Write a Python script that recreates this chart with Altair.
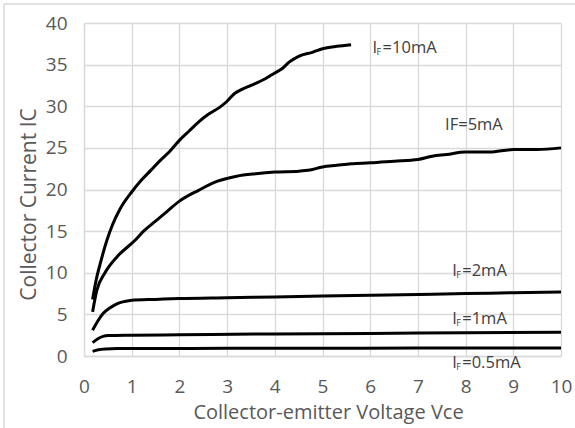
import altair as alt
import pandas as pd

# ---- data ----
if10_x = [0.18, 0.25, 0.35, 0.48, 0.6, 0.75, 1.0, 1.2, 1.4, 1.6, 1.8, 2.0, 2.2, 2.4, 2.6,
          2.85, 3.0, 3.15, 3.3, 3.5, 3.8, 4.0, 4.15, 4.3, 4.5, 4.8, 5.0, 5.3, 5.6]
if10_y = [6.8, 9.0, 11.3, 13.9, 15.8, 17.6, 19.7, 21.1, 22.3, 23.5, 24.6, 25.9, 27.0, 28.1, 29.0,
          29.9, 30.6, 31.5, 32.0, 32.5, 33.3, 34.0, 34.5, 35.3, 36.0, 36.5, 36.9, 37.2, 37.4]

if5_x = [0.18, 0.27, 0.44, 0.69, 1.07, 1.25, 1.5, 1.75, 2.0, 2.4, 2.8, 3.2, 3.6, 4.0, 4.5, 4.7,
         5.0, 5.3, 5.6, 6.0, 6.5, 7.0, 7.3, 7.6, 8.0, 8.5, 9.0, 9.5, 10.0]
if5_y = [5.3, 7.9, 10.0, 11.9, 13.9, 15.0, 16.2, 17.4, 18.6, 19.9, 21.0, 21.6, 21.9, 22.1, 22.2, 22.3,
         22.7, 22.9, 23.1, 23.2, 23.4, 23.6, 24.0, 24.2, 24.5, 24.5, 24.8, 24.8, 25.0]

if2_x = [0.18, 0.3, 0.4, 0.55, 0.7, 0.85, 1.0, 1.5, 2.0, 3.0, 4.0, 5.0, 6.0, 7.0, 8.0, 9.0, 10.0]
if2_y = [3.1, 4.3, 5.1, 5.8, 6.3, 6.55, 6.7, 6.8, 6.9, 7.0, 7.1, 7.2, 7.3, 7.4, 7.5, 7.6, 7.7]

if1_x = [0.18, 0.3, 0.4, 0.5, 1.0, 2.0, 4.0, 6.0, 8.0, 10.0]
if1_y = [1.6, 2.1, 2.35, 2.45, 2.5, 2.55, 2.65, 2.7, 2.8, 2.85]

if05_x = [0.18, 0.3, 0.45, 0.7, 1.0, 3.0, 5.0, 7.0, 10.0]
if05_y = [0.55, 0.75, 0.85, 0.9, 0.9, 0.92, 0.93, 0.95, 0.95]

series_names = ["10mA", "5mA", "2mA", "1mA", "0.5mA"]

sub_label_x = [6.05, 7.72, 7.72, 7.72]
sub_label_y = [37.0, 10.2, 4.4, -0.85]
sub_label_rest = ["=10mA", "=2mA", "=1mA", "=0.5mA"]

plain_label_x = [7.57]
plain_label_y = [27.8]
plain_label_text = ["IF=5mA"]

x_tick_values = [i / 2 for i in range(0, 21)]
y_tick_values = [0, 5, 10, 15, 20, 25, 30, 35, 40]

# ---- build tables ----
rows = []
for name, xs, ys in zip(series_names,
                        [if10_x, if5_x, if2_x, if1_x, if05_x],
                        [if10_y, if5_y, if2_y, if1_y, if05_y]):
    for a, b in zip(xs, ys):
        rows.append({"series": name, "vce": a, "ic": b})
df = pd.DataFrame(rows)

sub_df = pd.DataFrame({"vce": sub_label_x, "ic": sub_label_y, "rest": sub_label_rest,
                       "i": ["I"] * len(sub_label_x), "f": ["F"] * len(sub_label_x)})
plain_df = pd.DataFrame({"vce": plain_label_x, "ic": plain_label_y, "txt": plain_label_text})

FONT = "Open Sans"
GRAY = "#595959"

x_enc = alt.X("vce:Q", scale=alt.Scale(domain=[0, 10], nice=False),
              axis=alt.Axis(values=x_tick_values,
                            labelExpr="datum.value % 1 === 0 ? datum.label : ''",
                            gridColor={"condition": {"test": "datum.value % 1 === 0", "value": "#d9d9d9"},
                                       "value": "#efefef"},
                            gridWidth=1.3, ticks=False, tickSize=0,
                            domainColor="#d9d9d9", domainWidth=1.3,
                            labelFont=FONT, labelFontSize=19, labelColor=GRAY,
                            labelPadding=21, labelFlush=False,
                            title="Collector-emitter Voltage Vce",
                            titleFont=FONT, titleFontSize=20, titleFontWeight="normal",
                            titleColor=GRAY, titleX=244, titleY=62,
                            titleBaseline="alphabetic", titleAlign="center"))
y_enc = alt.Y("ic:Q", scale=alt.Scale(domain=[0, 40], nice=False),
              axis=alt.Axis(values=y_tick_values, gridColor="#d9d9d9", gridWidth=1.3,
                            ticks=False, tickSize=0, domainColor="#d9d9d9", domainWidth=1.3,
                            labelFont=FONT, labelFontSize=19, labelColor=GRAY,
                            labelPadding=17, labelFlush=False,
                            title="Collector Current IC",
                            titleFont=FONT, titleFontSize=21, titleFontWeight="normal",
                            titleColor=GRAY, titleX=-49, titleY=181,
                            titleBaseline="alphabetic", titleAlign="center", titleAngle=270))

lines = alt.Chart(df).mark_line(strokeWidth=3, interpolate="monotone", color="black").encode(
    x=x_enc, y=y_enc, detail="series:N")

lab_col = "#404040"
t_i = alt.Chart(sub_df).mark_text(align="left", baseline="middle", font=FONT, fontSize=16.5,
                                  color=lab_col).encode(x="vce:Q", y="ic:Q", text="i:N")
t_f = alt.Chart(sub_df).mark_text(align="left", baseline="middle", font=FONT, fontSize=9,
                                  color=lab_col, dx=4, dy=4).encode(x="vce:Q", y="ic:Q", text="f:N")
t_r = alt.Chart(sub_df).mark_text(align="left", baseline="middle", font=FONT, fontSize=16.5,
                                  color=lab_col, dx=10).encode(x="vce:Q", y="ic:Q", text="rest:N")
t_p = alt.Chart(plain_df).mark_text(align="left", baseline="middle", font=FONT, fontSize=16.5,
                                    color=lab_col).encode(x="vce:Q", y="ic:Q", text="txt:N")

one = pd.DataFrame({"k": [0]})
frame_top = alt.Chart(one).mark_rule(color="#d9d9d9", strokeWidth=1.5).encode(
    x=alt.value(-80), x2=alt.value(495), y=alt.value(-19))
frame_left = alt.Chart(one).mark_rule(color="#d9d9d9", strokeWidth=1.5).encode(
    x=alt.value(-80), y=alt.value(-19), y2=alt.value(410))

chart = alt.layer(lines, t_i, t_f, t_r, t_p, frame_top, frame_left).properties(
    width=477, height=333,
    padding={"left": 84, "top": 23, "right": 14, "bottom": 72},
    autosize=alt.AutoSizeParams(type="none"),
    background="white",
).configure_view(stroke=None)

chart.save("out.html", embed_options={"renderer": "svg", "actions": False})
